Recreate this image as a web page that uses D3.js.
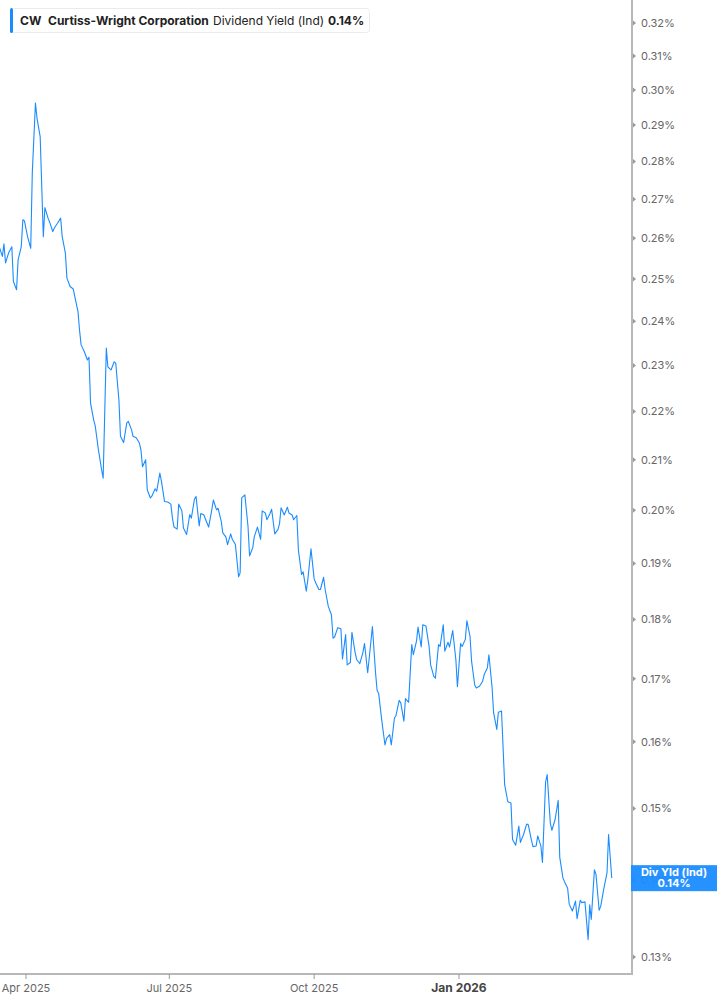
<!DOCTYPE html>
<html>
<head>
<meta charset="utf-8">
<script src="https://cdn.jsdelivr.net/npm/d3@7"></script>
<style>
  body { margin: 0; background: #fff; }
  text { font-family: Inter, "Noto Sans", sans-serif; }
</style>
</head>
<body>
<div id="wrapper"></div>
<script>
// values (dividend yield, %)
const dates = [
  "2025-03-15","2025-03-17","2025-03-18","2025-03-19","2025-03-21","2025-03-23","2025-03-24","2025-03-26","2025-03-27","2025-03-29",
  "2025-03-30","2025-03-31","2025-04-02","2025-04-04","2025-04-05","2025-04-07","2025-04-08","2025-04-10","2025-04-12","2025-04-13",
  "2025-04-15","2025-04-16","2025-04-18","2025-04-19","2025-04-21","2025-04-23","2025-04-24","2025-04-26","2025-04-27","2025-04-29",
  "2025-05-01","2025-05-02","2025-05-04","2025-05-05","2025-05-06","2025-05-08","2025-05-10","2025-05-11","2025-05-12","2025-05-14",
  "2025-05-15","2025-05-17","2025-05-19","2025-05-20","2025-05-22","2025-05-23","2025-05-25","2025-05-27","2025-05-28","2025-05-30",
  "2025-05-31","2025-06-02","2025-06-04","2025-06-05","2025-06-07","2025-06-08","2025-06-10","2025-06-12","2025-06-13","2025-06-14",
  "2025-06-16","2025-06-17","2025-06-19","2025-06-20","2025-06-22","2025-06-23","2025-06-25","2025-06-26","2025-06-28","2025-06-30",
  "2025-07-02","2025-07-03","2025-07-04","2025-07-06","2025-07-07","2025-07-09","2025-07-10","2025-07-12","2025-07-14","2025-07-15",
  "2025-07-17","2025-07-18","2025-07-20","2025-07-21","2025-07-23","2025-07-24","2025-07-26","2025-07-28","2025-07-29","2025-07-31",
  "2025-08-01","2025-08-03","2025-08-04","2025-08-06","2025-08-07","2025-08-09","2025-08-10","2025-08-12","2025-08-14","2025-08-15",
  "2025-08-16","2025-08-18","2025-08-20","2025-08-21","2025-08-23","2025-08-24","2025-08-26","2025-08-28","2025-08-29","2025-08-31",
  "2025-09-01","2025-09-03","2025-09-04","2025-09-06","2025-09-08","2025-09-09","2025-09-10","2025-09-12","2025-09-14","2025-09-15",
  "2025-09-17","2025-09-18","2025-09-20","2025-09-21","2025-09-23","2025-09-24","2025-09-26","2025-09-27","2025-09-29","2025-10-01",
  "2025-10-02","2025-10-04","2025-10-05","2025-10-07","2025-10-08","2025-10-10","2025-10-12","2025-10-13","2025-10-14","2025-10-16",
  "2025-10-18","2025-10-19","2025-10-21","2025-10-22","2025-10-24","2025-10-25","2025-10-27","2025-10-28","2025-10-30","2025-11-01",
  "2025-11-02","2025-11-04","2025-11-05","2025-11-07","2025-11-09","2025-11-10","2025-11-11","2025-11-13","2025-11-15","2025-11-16",
  "2025-11-18","2025-11-19","2025-11-21","2025-11-22","2025-11-24","2025-11-25","2025-11-27","2025-11-28","2025-11-30","2025-12-02",
  "2025-12-03","2025-12-05","2025-12-06","2025-12-08","2025-12-09","2025-12-11","2025-12-13","2025-12-14","2025-12-16","2025-12-17",
  "2025-12-19","2025-12-20","2025-12-22","2025-12-23","2025-12-25","2025-12-26","2025-12-28","2025-12-30","2025-12-31","2026-01-02",
  "2026-01-03","2026-01-05","2026-01-06","2026-01-08","2026-01-09","2026-01-11","2026-01-12","2026-01-14","2026-01-16","2026-01-17",
  "2026-01-19","2026-01-20","2026-01-22","2026-01-23","2026-01-25","2026-01-26","2026-01-28","2026-01-29","2026-01-30","2026-02-01",
  "2026-02-03","2026-02-04","2026-02-06","2026-02-08","2026-02-09","2026-02-11","2026-02-13","2026-02-14","2026-02-16","2026-02-17",
  "2026-02-19","2026-02-20","2026-02-22","2026-02-23","2026-02-25","2026-02-26","2026-02-28","2026-03-01","2026-03-03","2026-03-05",
  "2026-03-06","2026-03-08","2026-03-09","2026-03-11","2026-03-12","2026-03-14","2026-03-16","2026-03-17","2026-03-19","2026-03-20",
  "2026-03-22","2026-03-24","2026-03-25","2026-03-26","2026-03-28","2026-03-29","2026-03-31","2026-04-01","2026-04-03","2026-04-05",
  "2026-04-06","2026-04-08"
]
const yields = [
  .2579,.2555,.2586,.2539,.2564,.2579,.2494,.2474,.2547,.2579,
  .2647,.2644,.2604,.2575,.2770,.2962,.2919,.2868,.2604,.2678,
  .2651,.2641,.2617,.2626,.2638,.2651,.2604,.2563,.2502,.2482,
  .2476,.2458,.2423,.2380,.2346,.2331,.2312,.2318,.2218,.2182,
  .2169,.2120,.2080,.2063,.2339,.2297,.2290,.2308,.2305,.2225,
  .2148,.2135,.2176,.2179,.2162,.2148,.2145,.2134,.2120,.2086,
  .2100,.2040,.2024,.2028,.2042,.2037,.2073,.2057,.2017,.2016,
  .2012,.1985,.1968,.1964,.2012,.1999,.1966,.1954,.1992,.1985,
  .2022,.2027,.1970,.1994,.1991,.1983,.1968,.2001,.2020,.2001,
  .2004,.1979,.1957,.1949,.1935,.1955,.1945,.1935,.1876,.1883,
  .2024,.2030,.1969,.1914,.1929,.1950,.1968,.1945,.1999,.1995,
  .1982,.1994,.2002,.1955,.1963,.1974,.2005,.1991,.2006,.1995,
  .1991,.1982,.1990,.1925,.1880,.1885,.1850,.1871,.1927,.1872,
  .1865,.1853,.1853,.1875,.1853,.1823,.1808,.1768,.1770,.1786,
  .1784,.1733,.1774,.1723,.1727,.1778,.1744,.1732,.1725,.1744,
  .1759,.1710,.1735,.1788,.1710,.1681,.1676,.1632,.1595,.1605,
  .1611,.1595,.1637,.1641,.1665,.1661,.1632,.1668,.1662,.1757,
  .1740,.1763,.1787,.1753,.1791,.1789,.1754,.1723,.1704,.1701,
  .1757,.1754,.1791,.1746,.1761,.1753,.1781,.1732,.1687,.1759,
  .1754,.1766,.1798,.1771,.1729,.1690,.1685,.1688,.1696,.1707,
  .1718,.1740,.1686,.1645,.1619,.1646,.1648,.1591,.1535,.1510,
  .1508,.1456,.1448,.1475,.1452,.1463,.1478,.1477,.1455,.1446,
  .1447,.1461,.1447,.1424,.1539,.1550,.1479,.1469,.1484,.1512,
  .1431,.1403,.1398,.1389,.1368,.1359,.1372,.1349,.1373,.1370,
  .1371,.1322,.1367,.1348,.1414,.1408,.1360,.1365,.1389,.1410,
  .1463,.1403
]
const yTicks = [.13,.14,.15,.16,.17,.18,.19,.20,.21,.22,.23,.24,.25,.26,.27,.28,.29,.30,.31,.32]
const xTicks = ["2025-04-01","2025-07-01","2025-10-01","2026-01-01"]
const lastYield = 0.14

const parseDate = d3.timeParse("%Y-%m-%d")
const data = dates.map((d, i) => ({ date: parseDate(d), value: yields[i] }))

const width = 717, height = 1005
const plotRight = 632, plotBottom = 974
const blue = "#1a8cff"

const svg = d3.select("#wrapper").append("svg")
    .attr("width", width)
    .attr("height", height)

const xScale = d3.scaleTime()
    .domain([parseDate("2025-04-01"), parseDate("2026-01-01")])
    .range([26, 459])

const yScale = d3.scaleLog()
    .domain([0.32, 0.13])
    .range([23, 957])

// line
svg.append("clipPath").attr("id", "plot")
  .append("rect").attr("x", 0).attr("y", 0).attr("width", plotRight).attr("height", plotBottom)

const line = d3.line()
    .x(d => xScale(d.date))
    .y(d => yScale(d.value))

svg.append("path")
    .datum(data)
    .attr("clip-path", "url(#plot)")
    .attr("d", line)
    .attr("fill", "none")
    .attr("stroke", blue)
    .attr("stroke-width", 1.1)
    .attr("stroke-linejoin", "round")

// axes
svg.append("line")
    .attr("x1", plotRight).attr("x2", plotRight)
    .attr("y1", 0).attr("y2", plotBottom + 1)
    .attr("stroke", "#b8b8b8").attr("stroke-width", 2)
svg.append("line")
    .attr("x1", 0).attr("x2", plotRight + 1)
    .attr("y1", plotBottom).attr("y2", plotBottom)
    .attr("stroke", "#b8b8b8").attr("stroke-width", 2)

const yAxis = svg.append("g")
yAxis.selectAll("path")
  .data(yTicks)
  .join("path")
    .attr("d", d => `M${plotRight + 1},${yScale(d) - 2.5}L${plotRight + 4},${yScale(d)}L${plotRight + 1},${yScale(d) + 2.5}Z`)
    .attr("fill", "#999")
yAxis.selectAll("text")
  .data(yTicks)
  .join("text")
    .attr("x", 641)
    .attr("y", d => yScale(d))
    .attr("dy", "0.35em")
    .attr("font-size", 11)
    .attr("fill", "#666")
    .text(d => d3.format(".2f")(d) + "%")

const xAxis = svg.append("g")
xAxis.selectAll("line")
  .data(xTicks)
  .join("line")
    .attr("x1", d => xScale(parseDate(d))).attr("x2", d => xScale(parseDate(d)))
    .attr("y1", plotBottom).attr("y2", plotBottom + 5)
    .attr("stroke", "#999")
xAxis.selectAll("text")
  .data(xTicks)
  .join("text")
    .attr("x", d => xScale(parseDate(d)))
    .attr("y", 992)
    .attr("text-anchor", "middle")
    .attr("font-size", d => parseDate(d).getMonth() === 0 ? 12 : 11)
    .attr("font-weight", d => parseDate(d).getMonth() === 0 ? 700 : 400)
    .attr("fill", d => parseDate(d).getMonth() === 0 ? "#444" : "#666")
    .text(d => {
      const dt = parseDate(d)
      return d3.timeFormat("%b %Y")(dt)
    })

// last value tag
const tag = svg.append("g")
tag.append("rect")
    .attr("x", plotRight - 1).attr("y", yScale(lastYield) - 15)
    .attr("width", width - plotRight + 1).attr("height", 26)
    .attr("fill", blue).attr("opacity", 0.95)
tag.append("text")
    .attr("x", 674).attr("y", yScale(lastYield) - 4.5)
    .attr("text-anchor", "middle")
    .attr("font-size", 11).attr("font-weight", 700).attr("fill", "#fff")
    .text("Div Yld (Ind)")
tag.append("text")
    .attr("x", 674).attr("y", yScale(lastYield) + 7)
    .attr("text-anchor", "middle")
    .attr("font-size", 11).attr("font-weight", 700).attr("fill", "#fff")
    .text(d3.format(".2f")(lastYield) + "%")

// header legend
const head = svg.append("g")
head.append("rect")
    .attr("x", 10.5).attr("y", 8.5).attr("width", 359).attr("height", 24).attr("rx", 3)
    .attr("fill", "#fff").attr("stroke", "#ebebeb")
head.append("rect")
    .attr("x", 10).attr("y", 8).attr("width", 3).attr("height", 25).attr("rx", 1.5)
    .attr("fill", blue)
const headText = [
  { t: "CW", x: 20, w: 700 },
  { t: "Curtiss-Wright Corporation", x: 48, w: 700 },
  { t: "Dividend Yield (Ind)", x: 213, w: 400 },
  { t: "0.14%", x: 328, w: 700 }
]
head.selectAll("text")
  .data(headText)
  .join("text")
    .attr("x", d => d.x)
    .attr("y", 25)
    .attr("font-size", 12)
    .attr("font-weight", d => d.w)
    .attr("fill", "#222")
    .text(d => d.t)
</script>
</body>
</html>
